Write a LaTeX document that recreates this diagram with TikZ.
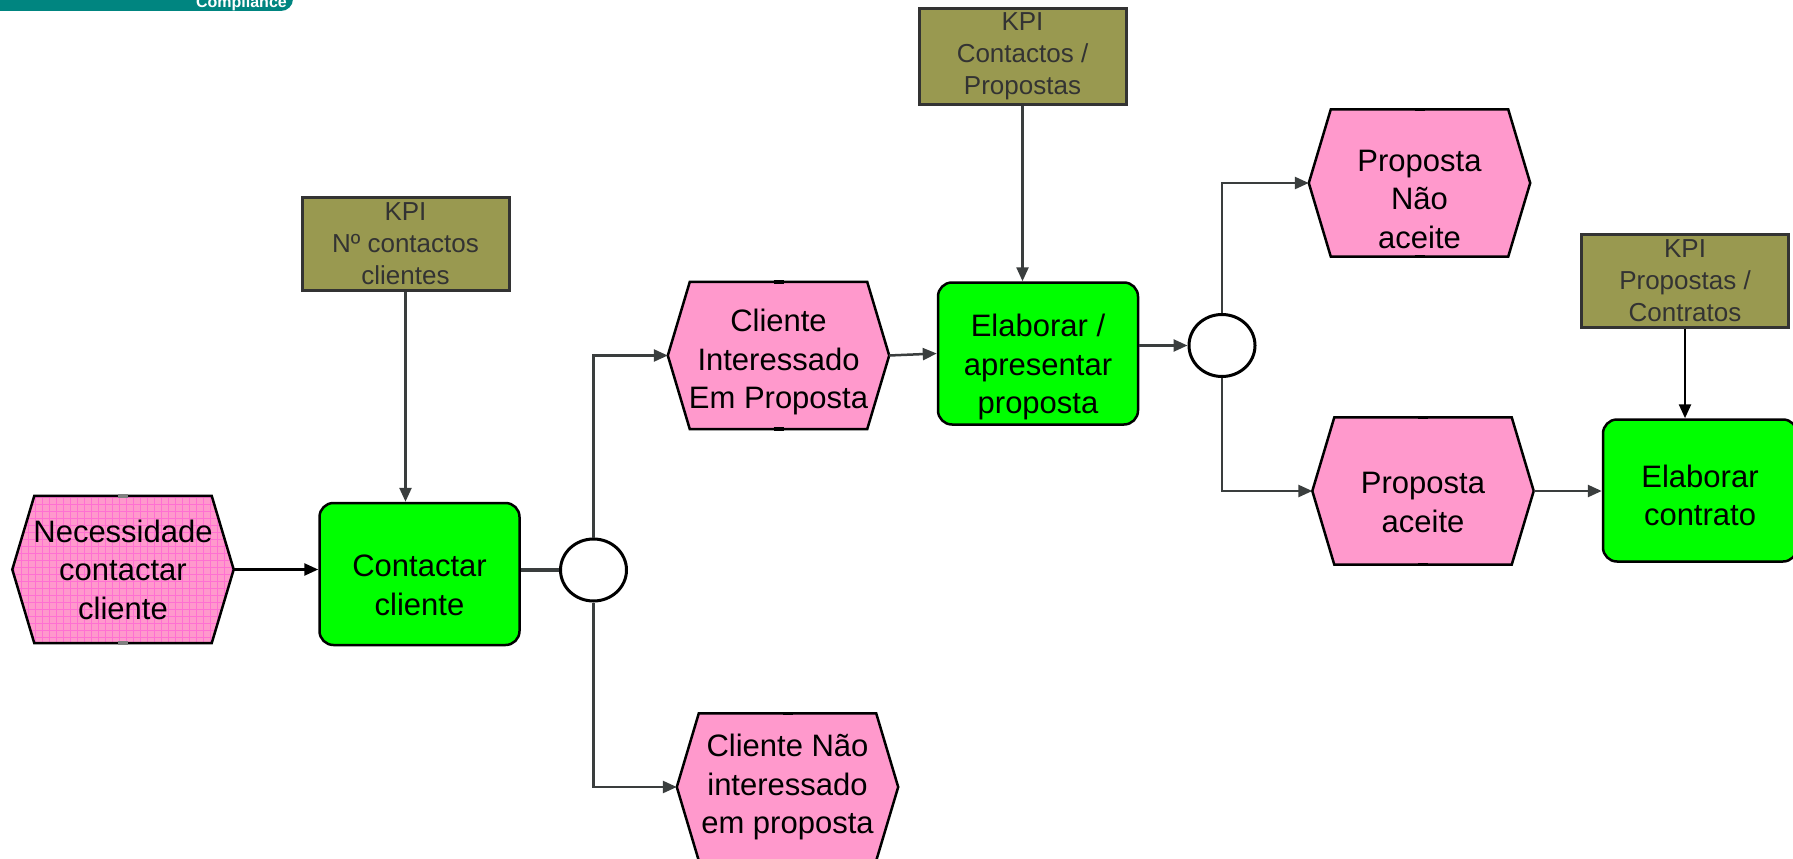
\documentclass[tikz,border=0pt]{standalone}
\usepackage{fontspec}
\setmainfont{Liberation Sans}
\usetikzlibrary{arrows.meta,shapes.geometric}
\pgfdeclarelayer{bg}
\pgfsetlayers{bg,main}
\definecolor{evpink}{HTML}{FF99CC}
\definecolor{evgrid}{HTML}{FF70D2}
\definecolor{fngreen}{HTML}{00FF00}
\definecolor{kpiolive}{HTML}{999950}
\definecolor{kpitext}{HTML}{333333}
\definecolor{wire}{HTML}{3A3E3E}
\definecolor{banner}{HTML}{008580}
\def\bigtxt{\fontsize{31}{38.5}\selectfont}
\def\smalltxt{\fontsize{26}{32}\selectfont}
\def\dn#1{\rule{0pt}{#1pt}}
\def\EV#1{\begin{pgfonlayer}{bg}
  \draw[hexline,fill=evpink] (#1.west) -- ([xshift=22pt]#1.north west) -- ([xshift=-22pt]#1.north east)
    -- (#1.east) -- ([xshift=-22pt]#1.south east) -- ([xshift=22pt]#1.south west) -- cycle;
  \draw[tab] ([xshift=-5pt]#1.north) -- ([xshift=5pt]#1.north) ([xshift=-5pt]#1.south) -- ([xshift=5pt]#1.south);
  \end{pgfonlayer}}
\def\EVgrid#1{\begin{pgfonlayer}{bg}
  \fill[evpink] (#1.west) -- ([xshift=22pt]#1.north west) -- ([xshift=-22pt]#1.north east)
    -- (#1.east) -- ([xshift=-22pt]#1.south east) -- ([xshift=22pt]#1.south west) -- cycle;
  \begin{scope}
  \clip (#1.west) -- ([xshift=22pt]#1.north west) -- ([xshift=-22pt]#1.north east)
    -- (#1.east) -- ([xshift=-22pt]#1.south east) -- ([xshift=22pt]#1.south west) -- cycle;
  \draw[evgrid,line width=0.6pt] (#1.south west) grid[step=7pt] (#1.north east);
  \end{scope}
  \draw[hexline] (#1.west) -- ([xshift=22pt]#1.north west) -- ([xshift=-22pt]#1.north east)
    -- (#1.east) -- ([xshift=-22pt]#1.south east) -- ([xshift=22pt]#1.south west) -- cycle;
  \draw[tab,gray] ([xshift=-5pt]#1.north) -- ([xshift=5pt]#1.north) ([xshift=-5pt]#1.south) -- ([xshift=5pt]#1.south);
  \end{pgfonlayer}}
\begin{document}
\begin{tikzpicture}[x=1pt,y=-1pt,
  ev/.style={minimum width=221pt,minimum height=147pt,inner sep=0pt,align=center,font=\bigtxt},
  fn/.style={draw,line width=2.5pt,rounded corners=14pt,fill=fngreen,minimum width=200pt,
    minimum height=142pt,inner sep=0pt,align=center,font=\bigtxt},
  kpi/.style={draw=kpitext,line width=3pt,fill=kpiolive,text=kpitext,minimum width=207pt,
    minimum height=93pt,inner sep=0pt,align=center,font=\smalltxt},
  xor/.style={ellipse,draw,line width=3pt,fill=white,minimum width=66pt,minimum height=62pt,inner sep=0pt},
  flow/.style={wire,line width=2.5pt,-{Triangle[length=14pt,width=12pt]}},
  hexline/.style={line width=2.5pt},
  tab/.style={line width=3.5pt}]
\clip (0,0) rectangle (1793,859);
\fill[banner,rounded corners=12pt] (-20,-30) rectangle (293,11);
\node[anchor=base east,text=white,font=\fontsize{16}{18}\selectfont\bfseries,inner sep=0pt] (ban) at (287,7.5) {Compliance};

\node[ev] (nec) at (123,569.5) {Necessidade\\contactar\\cliente};
\node[ev] (ci) at (778.5,355.5) {\dn{36}Cliente\\Interessado\\Em Proposta};
\node[ev] (cn) at (787.5,787) {Cliente N\~ao\\interessado\\em proposta};
\node[ev] (pn) at (1419.5,183) {\dn{54}Proposta\\N\~ao\\aceite};
\node[ev] (pa) at (1423,491) {\dn{44}Proposta\\aceite};
\EVgrid{nec} \EV{ci} \EV{cn} \EV{pn} \EV{pa}

\node[fn] (cont) at (419.5,574) {\dn{44}Contactar\\cliente};
\node[fn] (elab) at (1038,353.5) {\dn{50}Elaborar /\\apresentar\\proposta};
\node[fn,minimum width=194pt] (ec) at (1700,490.5) {\dn{32}Elaborar\\contrato};

\node[kpi] (kpi1) at (405.5,243.5) {KPI\\N\textordmasculine{} contactos\\clientes};
\node[kpi,minimum height=95pt] (kpi2) at (1022.5,56.5) {KPI\\Contactos /\\Propostas};
\node[kpi] (kpi3) at (1685,280.5) {KPI\\Propostas /\\Contratos};

\node[xor] (c1) at (593.5,570) {};
\node[xor] (c2) at (1222,345.5) {};

\draw[flow,black] (nec.east) -- (nec.east -| cont.west);
\draw[wire,line width=4.5pt] (cont.east |- c1.west) -- (c1.west);
\draw[flow] (c1.north) |- (ci.west);
\draw[flow] (c1.south) |- (cn.west);
\draw[flow] (ci.east) -- (elab.west);
\draw[flow] (elab.east |- c2.west) -- (c2.west);
\draw[flow] (c2.north) |- (pn.west);
\draw[flow] (c2.south) |- (pa.west);
\draw[flow] (pa.east) -- (pa.east -| ec.west);
\draw[flow] (kpi1.south) -- (kpi1.south |- cont.north);
\draw[flow] (kpi2.south) -- (kpi2.south |- elab.north);
\draw[flow,black] (kpi3.south) -- (kpi3.south |- ec.north);
\end{tikzpicture}
\end{document}
